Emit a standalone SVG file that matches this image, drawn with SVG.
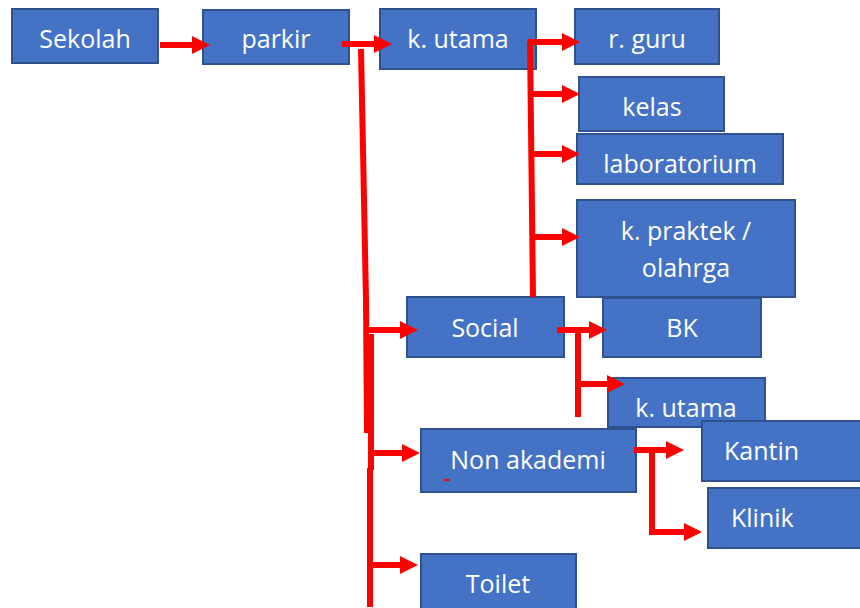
<svg xmlns="http://www.w3.org/2000/svg" width="860" height="608" viewBox="0 0 860 608">
<style>
.box{fill:#4472C4;stroke:#2F528F;stroke-width:2}
.t{font-family:"Open Sans","Liberation Sans",sans-serif;font-size:25px;fill:#FFFFFF;text-anchor:middle}
.ts{font-family:"Open Sans","Liberation Sans",sans-serif;font-size:25px;fill:#FFFFFF;text-anchor:start}
.c{fill:none;stroke:#FF0000;stroke-width:6}
.a{marker-end:url(#ah)}
</style>
<defs>
<marker id="ah" markerUnits="userSpaceOnUse" markerWidth="18" markerHeight="18" viewBox="0 0 18 18" refX="0" refY="9" orient="auto">
<path d="M0,0 L18,9 L0,18 z" fill="#FF0000"/>
</marker>
</defs>
<rect width="860" height="608" fill="#FFFFFF"/>
<g id="sekolah"><rect class="box" x="12" y="9" width="146" height="54"/><text class="t" x="85" y="48">Sekolah</text></g>
<g id="parkir"><rect class="box" x="203" y="10" width="146" height="54"/><text class="t" x="276" y="48">parkir</text></g>
<g id="kutama"><rect class="box" x="380" y="9" width="156" height="60"/><text class="t" x="458" y="48">k. utama</text></g>
<g id="rguru"><rect class="box" x="575" y="9" width="144" height="55"/><text class="t" x="647" y="48">r. guru</text></g>
<g id="kelas"><rect class="box" x="579" y="77" width="145" height="54"/><text class="t" x="652" y="116">kelas</text></g>
<g id="laboratorium"><rect class="box" x="577" y="134" width="206" height="50"/><text class="t" x="680" y="173">laboratorium</text></g>
<g id="kutama2"><rect class="box" x="608" y="378" width="157" height="49"/><text class="t" x="686" y="417">k. utama</text></g>
<g id="bk"><rect class="box" x="603" y="298" width="158" height="59"/><text class="t" x="682" y="337">BK</text></g>
<g id="kpraktek"><rect class="box" x="577" y="200" width="218" height="97"/><text class="t" x="686" y="240">k. praktek /</text><text class="t" x="686" y="277">olahrga</text></g>
<g id="social"><rect class="box" x="407" y="297" width="157" height="60"/><text class="t" x="485" y="337">Social</text></g>
<g id="kantin"><rect class="box" x="702" y="421" width="160" height="60"/><text class="ts" x="724" y="460">Kantin</text></g>
<g id="nonakademi"><rect class="box" x="421" y="429" width="215" height="63"/><text class="t" x="528" y="469">Non akademi</text></g>
<g id="klinik"><rect class="box" x="708" y="488" width="154" height="60"/><text class="ts" x="731" y="527">Klinik</text></g>
<g id="toilet"><rect class="box" x="421" y="554" width="155" height="56"/><text class="t" x="498" y="593">Toilet</text></g>
<g id="connectors">
<path class="c a" d="M160,45 H192"/>
<path class="c a" d="M342,44 H374"/>
<path class="c" d="M361,49 L366,300 L367,433"/>
<path class="c" d="M371,334 V470"/>
<path class="c" d="M370,468 V607"/>
<path class="c a" d="M366,330 H400"/>
<path class="c a" d="M369,453 H402"/>
<path class="c a" d="M369,565 H400"/>
<path class="c" d="M530,41 L533,297"/>
<path class="c a" d="M528,42 H562"/>
<path class="c a" d="M531,94 H562"/>
<path class="c a" d="M531,154 H562"/>
<path class="c a" d="M532,237 H562"/>
<path class="c a" d="M557,330 H589"/>
<path class="c" d="M578,330 V417"/>
<path class="c a" d="M575,384 H607"/>
<path class="c a" d="M634,450 H666"/>
<path class="c" d="M652,450 V534"/>
<path class="c a" d="M649,532 H684"/>
<rect x="444" y="479" width="6" height="2" fill="#FF0000"/>
</g>
</svg>
